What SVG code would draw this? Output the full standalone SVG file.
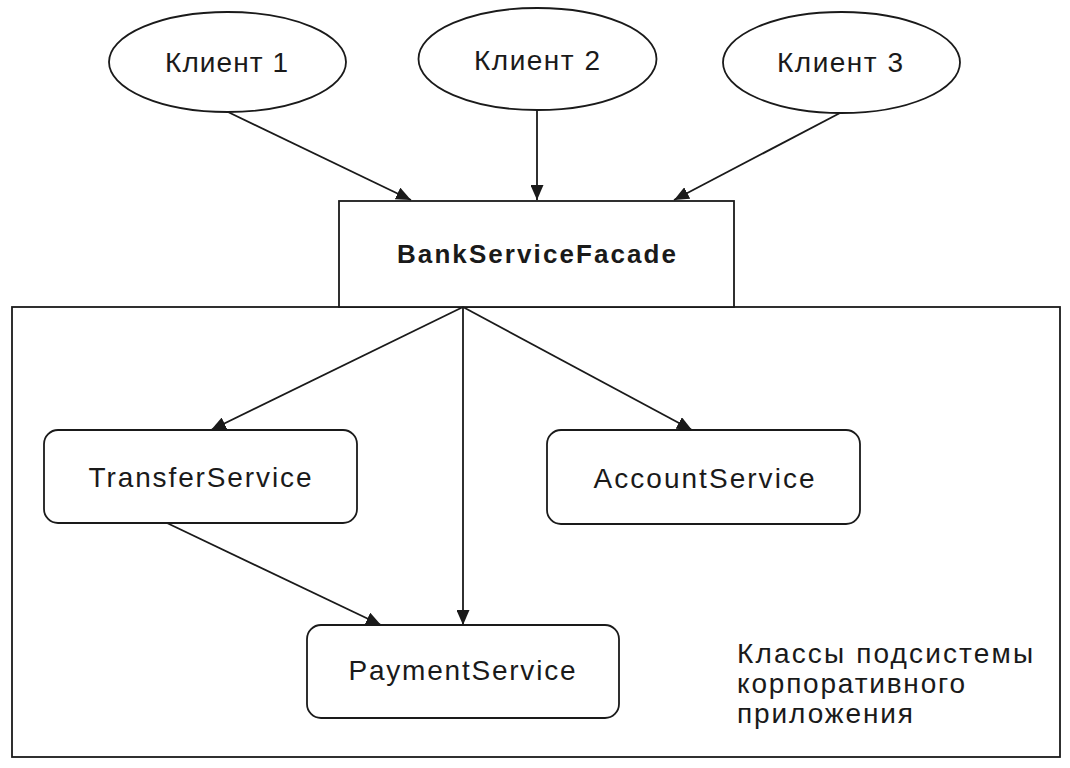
<svg xmlns="http://www.w3.org/2000/svg" width="1070" height="768" viewBox="0 0 1070 768">
  <style>
    .shape { fill: #ffffff; stroke: #1a1a1a; stroke-width: 1.8; }
    .edge { fill: none; stroke: #1a1a1a; stroke-width: 1.8; marker-end: url(#arrow); }
    .lbl { font-family: "Liberation Sans", Arial, sans-serif; font-size: 28px; fill: #1a1a1a; }
    .bold { font-family: "Liberation Sans", Arial, sans-serif; font-size: 26px; font-weight: bold; fill: #1a1a1a; }
  </style>
  <defs>
    <marker id="arrow" viewBox="0 0 15 13" refX="15" refY="6.5" markerWidth="15" markerHeight="13" markerUnits="userSpaceOnUse" orient="auto">
      <path d="M0,0 L15,6.5 L0,13 z" fill="#1a1a1a"/>
    </marker>
  </defs>
  <rect width="1070" height="768" fill="#ffffff"/>

  <g id="subsystem">
    <rect class="shape" x="12" y="307" width="1048" height="450"/>
    <text class="lbl" x="737" y="663" textLength="296" lengthAdjust="spacing">Классы подсистемы</text>
    <text class="lbl" x="737" y="693" textLength="228" lengthAdjust="spacing">корпоративного</text>
    <text class="lbl" x="737" y="723" textLength="176" lengthAdjust="spacing">приложения</text>
  </g>

  <g id="client1">
    <ellipse class="shape" cx="227.5" cy="62" rx="118.5" ry="50"/>
    <text class="lbl" x="226.5" y="72" text-anchor="middle" textLength="123" lengthAdjust="spacing">Клиент 1</text>
  </g>
  <g id="client2">
    <ellipse class="shape" cx="537.5" cy="59" rx="119" ry="51"/>
    <text class="lbl" x="537" y="70" text-anchor="middle" textLength="126" lengthAdjust="spacing">Клиент 2</text>
  </g>
  <g id="client3">
    <ellipse class="shape" cx="841.5" cy="62.5" rx="118.5" ry="50.5"/>
    <text class="lbl" x="840" y="72" text-anchor="middle" textLength="126" lengthAdjust="spacing">Клиент 3</text>
  </g>

  <g id="facade">
    <rect class="shape" x="339" y="201" width="395" height="106"/>
    <text class="bold" x="536.5" y="263" text-anchor="middle" textLength="279" lengthAdjust="spacing">BankServiceFacade</text>
  </g>

  <g id="transfer">
    <rect class="shape" x="44" y="430" width="313" height="93" rx="14" ry="14"/>
    <text class="lbl" x="200" y="487" text-anchor="middle" textLength="223" lengthAdjust="spacing">TransferService</text>
  </g>
  <g id="account">
    <rect class="shape" x="547" y="430" width="313" height="94" rx="14" ry="14"/>
    <text class="lbl" x="704" y="488" text-anchor="middle" textLength="221" lengthAdjust="spacing">AccountService</text>
  </g>
  <g id="payment">
    <rect class="shape" x="307" y="625" width="312" height="93" rx="14" ry="14"/>
    <text class="lbl" x="462" y="680" text-anchor="middle" textLength="227" lengthAdjust="spacing">PaymentService</text>
  </g>

  <g id="connectors">
    <line class="edge" x1="228" y1="112" x2="411" y2="200"/>
    <line class="edge" x1="537" y1="110" x2="537" y2="200"/>
    <line class="edge" x1="840" y1="113" x2="674" y2="200"/>
    <line class="edge" x1="463" y1="307" x2="211" y2="430"/>
    <line class="edge" x1="463" y1="307" x2="463" y2="625"/>
    <line class="edge" x1="463" y1="307" x2="692" y2="430"/>
    <line class="edge" x1="167" y1="523" x2="381" y2="625"/>
  </g>
</svg>
